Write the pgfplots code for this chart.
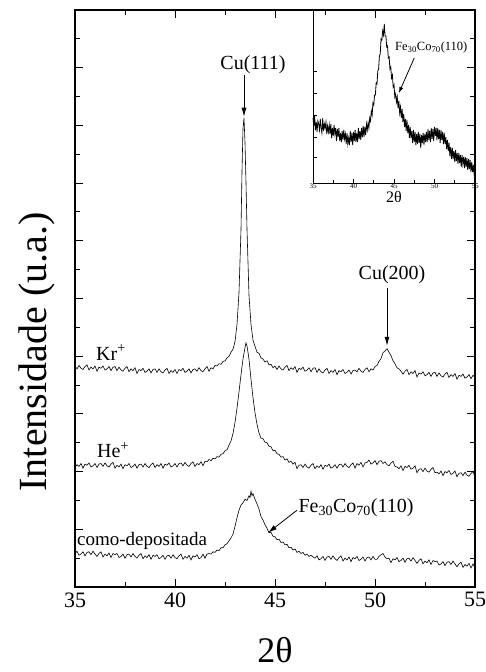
\documentclass[border=0pt]{standalone}
\usepackage{pgfplots}
\pgfplotsset{compat=1.18}
\usepackage{pgfplotstable}
\usetikzlibrary{arrows.meta}
\usepackage{fontspec}
\setmainfont{Liberation Serif}

\pgfplotstableread{
x y
35.0 3.83
35.1 3.78
35.2 3.84
35.3 3.79
35.4 3.77
35.5 3.82
35.6 3.85
35.7 3.76
35.8 3.81
35.9 3.78
36.0 3.83
36.1 3.74
36.2 3.81
36.3 3.79
36.4 3.83
36.5 3.76
36.6 3.78
36.7 3.82
36.8 3.75
36.9 3.81
37.0 3.82
37.1 3.75
37.2 3.81
37.3 3.76
37.4 3.74
37.5 3.79
37.6 3.82
37.7 3.73
37.8 3.78
37.9 3.75
38.0 3.80
38.1 3.70
38.2 3.77
38.3 3.75
38.4 3.79
38.5 3.72
38.6 3.74
38.7 3.78
38.8 3.71
38.9 3.77
39.0 3.78
39.1 3.72
39.2 3.78
39.3 3.73
39.4 3.71
39.5 3.76
39.6 3.79
39.7 3.70
39.8 3.75
39.9 3.72
40.0 3.77
40.1 3.70
40.2 3.77
40.3 3.75
40.4 3.79
40.5 3.72
40.6 3.74
40.7 3.78
40.8 3.71
40.9 3.77
41.0 3.78
41.1 3.74
41.2 3.80
41.3 3.75
41.4 3.73
41.5 3.78
41.6 3.82
41.7 3.74
41.8 3.80
41.9 3.78
42.0 3.84
42.1 3.83
42.2 3.87
42.3 3.86
42.4 3.91
42.5 3.92
42.6 3.97
42.7 4.00
42.8 4.07
42.9 4.12
43.0 4.25
43.1 4.55
43.2 5.10
43.3 6.20
43.35 7.20
43.4 7.95
43.45 8.13
43.5 7.70
43.55 7.00
43.6 6.20
43.7 5.05
43.8 4.55
43.9 4.28
44.0 4.17
44.1 4.07
44.2 4.05
44.3 3.97
44.4 3.95
44.5 3.90
44.6 3.92
44.7 3.85
44.8 3.86
44.9 3.80
45.0 3.83
45.1 3.77
45.2 3.83
45.3 3.78
45.4 3.76
45.5 3.81
45.6 3.84
45.7 3.75
45.8 3.80
45.9 3.77
46.0 3.82
46.1 3.72
46.2 3.79
46.3 3.77
46.4 3.81
46.5 3.74
46.6 3.76
46.7 3.80
46.8 3.73
46.9 3.79
47.0 3.80
47.1 3.72
47.2 3.78
47.3 3.73
47.4 3.71
47.5 3.76
47.6 3.79
47.7 3.70
47.8 3.75
47.9 3.72
48.0 3.77
48.1 3.68
48.2 3.75
48.3 3.73
48.4 3.77
48.5 3.70
48.6 3.72
48.7 3.76
48.8 3.69
48.9 3.75
49.0 3.76
49.1 3.73
49.2 3.79
49.3 3.74
49.4 3.72
49.5 3.77
49.6 3.80
49.7 3.73
49.8 3.78
49.9 3.76
50.0 3.82
50.1 3.84
50.2 3.91
50.3 3.96
50.4 4.06
50.5 4.09
50.6 4.13
50.7 4.07
50.8 4.01
50.9 3.92
51.0 3.87
51.1 3.80
51.2 3.78
51.3 3.74
51.4 3.69
51.5 3.74
51.6 3.77
51.7 3.68
51.8 3.73
51.9 3.70
52.0 3.75
52.1 3.64
52.2 3.71
52.3 3.69
52.4 3.73
52.5 3.66
52.6 3.68
52.7 3.72
52.8 3.65
52.9 3.71
53.0 3.72
53.1 3.65
53.2 3.71
53.3 3.66
53.4 3.64
53.5 3.69
53.6 3.72
53.7 3.63
53.8 3.68
53.9 3.65
54.0 3.70
54.1 3.60
54.2 3.67
54.3 3.65
54.4 3.69
54.5 3.62
54.6 3.64
54.7 3.68
54.8 3.61
54.9 3.67
55.0 3.63
}\krdata

\pgfplotstableread{
x y
35.0 2.07
35.1 2.12
35.2 2.09
35.3 2.14
35.4 2.06
35.5 2.13
35.6 2.11
35.7 2.15
35.8 2.08
35.9 2.10
36.0 2.14
36.1 2.07
36.2 2.13
36.3 2.14
36.4 2.09
36.5 2.15
36.6 2.10
36.7 2.08
36.8 2.13
36.9 2.16
37.0 2.06
37.1 2.11
37.2 2.08
37.3 2.13
37.4 2.05
37.5 2.12
37.6 2.10
37.7 2.14
37.8 2.07
37.9 2.09
38.0 2.13
38.1 2.06
38.2 2.12
38.3 2.13
38.4 2.08
38.5 2.14
38.6 2.09
38.7 2.07
38.8 2.12
38.9 2.15
39.0 2.07
39.1 2.12
39.2 2.09
39.3 2.14
39.4 2.06
39.5 2.13
39.6 2.11
39.7 2.15
39.8 2.08
39.9 2.10
40.0 2.14
40.1 2.08
40.2 2.14
40.3 2.15
40.4 2.10
40.5 2.16
40.6 2.11
40.7 2.09
40.8 2.14
40.9 2.17
41.0 2.09
41.1 2.14
41.2 2.12
41.3 2.17
41.4 2.10
41.5 2.18
41.6 2.17
41.7 2.21
41.8 2.19
41.9 2.23
42.0 2.22
42.1 2.26
42.2 2.25
42.3 2.30
42.4 2.31
42.5 2.36
42.6 2.38
42.7 2.46
42.8 2.53
42.9 2.66
43.0 2.85
43.1 3.10
43.2 3.38
43.3 3.68
43.4 3.95
43.5 4.15
43.55 4.23
43.6 4.18
43.7 3.95
43.8 3.60
43.9 3.28
44.0 3.02
44.1 2.82
44.2 2.67
44.3 2.58
44.4 2.57
44.5 2.51
44.6 2.50
44.7 2.44
44.8 2.43
44.9 2.36
45.0 2.37
45.1 2.31
45.2 2.30
45.3 2.25
45.4 2.26
45.5 2.20
45.6 2.22
45.7 2.16
45.8 2.18
45.9 2.13
46.0 2.16
46.1 2.05
46.2 2.11
46.3 2.12
46.4 2.07
46.5 2.13
46.6 2.08
46.7 2.06
46.8 2.11
46.9 2.14
47.0 2.05
47.1 2.10
47.2 2.07
47.3 2.12
47.4 2.04
47.5 2.11
47.6 2.09
47.7 2.13
47.8 2.06
47.9 2.08
48.0 2.12
48.1 2.06
48.2 2.12
48.3 2.13
48.4 2.08
48.5 2.14
48.6 2.09
48.7 2.07
48.8 2.12
48.9 2.15
49.0 2.06
49.1 2.14
49.2 2.11
49.3 2.16
49.4 2.08
49.5 2.15
49.6 2.16
49.7 2.20
49.8 2.13
49.9 2.15
50.0 2.19
50.1 2.12
50.2 2.18
50.3 2.19
50.4 2.14
50.5 2.17
50.6 2.12
50.7 2.10
50.8 2.15
50.9 2.18
51.0 2.09
51.1 2.08
51.2 2.05
51.3 2.10
51.4 2.02
51.5 2.09
51.6 2.07
51.7 2.11
51.8 2.04
51.9 2.06
52.0 2.10
52.1 1.98
52.2 2.04
52.3 2.05
52.4 2.00
52.5 2.06
52.6 2.01
52.7 1.99
52.8 2.04
52.9 2.07
53.0 1.98
53.1 1.99
53.2 1.96
53.3 2.01
53.4 1.93
53.5 2.00
53.6 1.98
53.7 2.02
53.8 1.95
53.9 1.97
54.0 2.01
54.1 1.91
54.2 1.97
54.3 1.98
54.4 1.93
54.5 1.99
54.6 1.94
54.7 1.92
54.8 1.97
54.9 2.00
55.0 1.91
}\hedata

\pgfplotstableread{
x y
35.0 0.58
35.1 0.62
35.2 0.55
35.3 0.57
35.4 0.61
35.5 0.54
35.6 0.60
35.7 0.61
35.8 0.56
35.9 0.62
36.0 0.57
36.1 0.53
36.2 0.58
36.3 0.61
36.4 0.52
36.5 0.57
36.6 0.54
36.7 0.59
36.8 0.51
36.9 0.58
37.0 0.56
37.1 0.58
37.2 0.51
37.3 0.53
37.4 0.57
37.5 0.50
37.6 0.56
37.7 0.57
37.8 0.52
37.9 0.58
38.0 0.53
38.1 0.50
38.2 0.55
38.3 0.58
38.4 0.49
38.5 0.54
38.6 0.51
38.7 0.56
38.8 0.48
38.9 0.55
39.0 0.53
39.1 0.56
39.2 0.49
39.3 0.51
39.4 0.55
39.5 0.48
39.6 0.54
39.7 0.55
39.8 0.50
39.9 0.56
40.0 0.51
40.1 0.49
40.2 0.54
40.3 0.57
40.4 0.48
40.5 0.53
40.6 0.50
40.7 0.55
40.8 0.47
40.9 0.54
41.0 0.52
41.1 0.56
41.2 0.49
41.3 0.51
41.4 0.57
41.5 0.50
41.6 0.57
41.7 0.58
41.8 0.57
41.9 0.61
42.0 0.60
42.1 0.64
42.2 0.63
42.3 0.68
42.4 0.68
42.5 0.73
42.6 0.75
42.7 0.80
42.8 0.85
42.9 0.92
43.0 1.05
43.1 1.20
43.2 1.33
43.3 1.42
43.4 1.46
43.5 1.52
43.6 1.50
43.7 1.58
43.75 1.55
43.8 1.66
43.85 1.58
43.9 1.62
44.0 1.52
44.1 1.44
44.2 1.35
44.3 1.22
44.4 1.16
44.5 1.08
44.6 1.02
44.7 0.94
44.8 0.95
44.9 0.88
45.0 0.87
45.1 0.82
45.2 0.83
45.3 0.77
45.4 0.78
45.5 0.73
45.6 0.74
45.7 0.68
45.8 0.69
45.9 0.64
46.0 0.66
46.1 0.60
46.2 0.62
46.3 0.58
46.4 0.60
46.5 0.55
46.6 0.57
46.7 0.53
46.8 0.55
46.9 0.52
47.0 0.50
47.1 0.54
47.2 0.47
47.3 0.49
47.4 0.53
47.5 0.46
47.6 0.52
47.7 0.53
47.8 0.48
47.9 0.54
48.0 0.49
48.1 0.46
48.2 0.51
48.3 0.54
48.4 0.45
48.5 0.50
48.6 0.47
48.7 0.52
48.8 0.44
48.9 0.51
49.0 0.49
49.1 0.53
49.2 0.46
49.3 0.48
49.4 0.52
49.5 0.45
49.6 0.51
49.7 0.52
49.8 0.47
49.9 0.53
50.0 0.48
50.1 0.48
50.2 0.53
50.3 0.56
50.4 0.58
50.5 0.52
50.6 0.49
50.7 0.50
50.8 0.42
50.9 0.49
51.0 0.47
51.1 0.51
51.2 0.44
51.3 0.46
51.4 0.50
51.5 0.43
51.6 0.49
51.7 0.50
51.8 0.45
51.9 0.51
52.0 0.46
52.1 0.41
52.2 0.46
52.3 0.49
52.4 0.40
52.5 0.45
52.6 0.42
52.7 0.47
52.8 0.39
52.9 0.46
53.0 0.44
53.1 0.45
53.2 0.38
53.3 0.40
53.4 0.44
53.5 0.37
53.6 0.43
53.7 0.44
53.8 0.39
53.9 0.45
54.0 0.40
54.1 0.35
54.2 0.40
54.3 0.43
54.4 0.34
54.5 0.39
54.6 0.36
54.7 0.41
54.8 0.33
54.9 0.40
55.0 0.33
}\comodata

\pgfplotstableread{
x y
35.0 65
35.1 57
35.2 67
35.3 53
35.4 61
35.5 51
35.6 62
35.7 59
35.8 53
35.9 64
36.0 55
36.1 50
36.2 65
36.3 52
36.4 59
36.5 55
36.6 61
36.7 49
36.8 57
36.9 51
37.0 58
37.1 49
37.2 59
37.3 45
37.4 55
37.5 47
37.6 58
37.7 49
37.8 55
37.9 42
38.0 54
38.1 46
38.2 55
38.3 42
38.4 50
38.5 41
38.6 52
38.7 43
38.8 53
38.9 44
39.0 49
39.1 39
39.2 50
39.3 39
39.4 45
39.5 38
39.6 52
39.7 41
39.8 50
39.9 38
40.0 51
40.1 42
40.2 53
40.3 41
40.4 50
40.5 41
40.6 55
40.7 44
40.8 52
40.9 43
41.0 55
41.1 46
41.2 57
41.3 46
41.4 56
41.5 48
41.6 59
41.7 53
41.8 60
41.9 55
42.0 65
42.1 62
42.2 72
42.3 68
42.4 80
42.5 78
42.6 88
42.7 88
42.8 100
42.9 99
43.0 112
43.1 114
43.2 127
43.3 129
43.4 144
43.5 143
43.6 152
43.7 148
43.8 159
43.9 147
44.0 147
44.1 136
44.2 137
44.3 125
44.4 126
44.5 114
44.6 116
44.7 105
44.8 108
44.9 96
45.0 98
45.1 86
45.2 89
45.3 81
45.4 86
45.5 75
45.6 82
45.7 70
45.8 76
45.9 65
46.0 74
46.1 61
46.2 69
46.3 56
46.4 64
46.5 52
46.6 63
46.7 50
46.8 58
46.9 45
47.0 56
47.1 45
47.2 52
47.3 40
47.4 53
47.5 41
47.6 51
47.7 38
47.8 49
47.9 39
48.0 51
48.1 40
48.2 49
48.3 35
48.4 48
48.5 40
48.6 50
48.7 38
48.8 49
48.9 41
49.0 51
49.1 41
49.2 54
49.3 43
49.4 52
49.5 41
49.6 55
49.7 44
49.8 54
49.9 42
50.0 56
50.1 47
50.2 55
50.3 43
50.4 55
50.5 44
50.6 53
50.7 40
50.8 53
50.9 43
51.0 51
51.1 39
51.2 50
51.3 39
51.4 46
51.5 34
51.6 43
51.7 32
51.8 40
51.9 27
52.0 36
52.1 24
52.2 35
52.3 24
52.4 32
52.5 21
52.6 33
52.7 22
52.8 30
52.9 19
53.0 30
53.1 20
53.2 28
53.3 16
53.4 28
53.5 19
53.6 26
53.7 15
53.8 26
53.9 16
54.0 25
54.1 13
54.2 24
54.3 14
54.4 23
54.5 11
54.6 21
54.7 11
54.8 18
54.9 8
55.0 3
}\insetdata

\begin{document}
\begin{tikzpicture}
\path[use as bounding box] (0pt,0pt) rectangle (486pt,672pt);
\begin{axis}[
  at={(75pt,85pt)}, anchor=south west,
  width=400pt, height=577pt, scale only axis,
  xmin=35, xmax=55, ymin=0, ymax=10,
  xtick={35,40,45,50,55}, minor x tick num=1,
  ytick={0,1,...,10}, yticklabels={}, minor y tick num=1,
  tick align=inside,
  major tick length=8pt, minor tick length=5pt,
  axis line style={line width=1.1pt},
  every tick/.style={black, line width=1pt},
  xticklabel style={font=\fontsize{22}{22}\selectfont, yshift=-2pt},
  /pgf/number format/assume math mode=true,
  clip=false,
]
\addplot[black, line width=0.6pt, mark=none] table {\krdata};
\addplot[black, line width=0.6pt, mark=none] table {\hedata};
\addplot[black, line width=0.6pt, mark=none] table {\comodata};

\node[font=\fontsize{20}{20}\selectfont] at (axis cs:43.9,9.06) {Cu(111)};
\draw[line width=0.8pt, -{Latex[length=9pt,width=5pt]}] (axis cs:43.45,8.87) -- (axis cs:43.45,8.15);
\node[font=\fontsize{20}{20}\selectfont] at (axis cs:50.85,5.42) {Cu(200)};
\draw[line width=0.8pt, -{Latex[length=9pt,width=5pt]}] (axis cs:50.6,5.18) -- (axis cs:50.6,4.18);
\node[font=\fontsize{20}{20}\selectfont, anchor=west, inner sep=0pt] at (axis cs:36.05,4.06) {Kr\textsuperscript{+}};
\node[font=\fontsize{20}{20}\selectfont, anchor=west, inner sep=0pt] at (axis cs:36.1,2.37) {He\textsuperscript{+}};
\node[font=\fontsize{19}{19}\selectfont, anchor=west, inner sep=0pt] at (axis cs:35.1,0.80) {como-depositada};
\node[font=\fontsize{20}{20}\selectfont] at (axis cs:49.05,1.37) {Fe\textsubscript{30}Co\textsubscript{70}(110)};
\draw[line width=0.8pt, -{Latex[length=9pt,width=5pt]}] (axis cs:46.1,1.33) -- (axis cs:44.65,0.94);
\end{axis}

\begin{axis}[
  at={(313pt,489pt)}, anchor=south west,
  width=162pt, height=173pt, scale only axis,
  xmin=35, xmax=55, ymin=0, ymax=173,
  xtick={35,40,45,50,55}, minor x tick num=1, xtick pos=bottom,
  ytick={26,46,68,90,112}, yticklabels={}, ytick pos=left,
  tick align=inside,
  major tick length=4pt, minor tick length=2.5pt,
  axis line style={line width=0.9pt},
  every tick/.style={black, line width=0.7pt},
  xticklabel style={font=\fontsize{7}{7}\selectfont, inner sep=1pt},
  /pgf/number format/assume math mode=true,
  xlabel={2θ},
  xlabel style={font=\fontsize{16}{16}\selectfont, inner sep=0pt, yshift=-1pt},
  clip=false,
]
\addplot[black, line width=0.8pt, mark=none] table {\insetdata};
\node[font=\fontsize{12.5}{12.5}\selectfont] at (axis cs:49.6,135) {Fe\textsubscript{30}Co\textsubscript{70}(110)};
\draw[line width=0.8pt, -{Latex[length=6pt,width=4pt]}] (axis cs:47.5,125) -- (axis cs:45.6,90);
\end{axis}

\node[rotate=90, font=\fontsize{40}{40}\selectfont] at (37pt,320pt) {Intensidade (u.a.)};
\node[font=\fontsize{36}{36}\selectfont] at (275pt,22pt) {2θ};
\end{tikzpicture}
\end{document}
